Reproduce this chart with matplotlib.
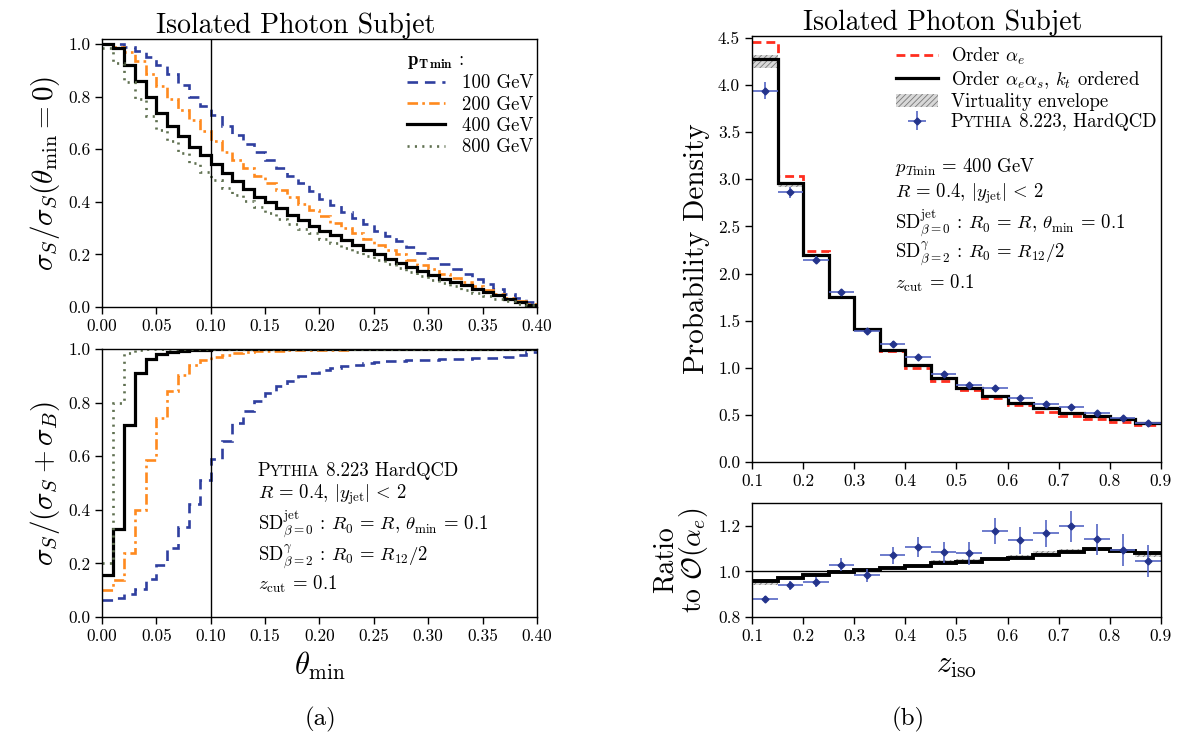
import matplotlib
matplotlib.use("Agg")
import matplotlib.pyplot as plt
import numpy as np
from matplotlib.offsetbox import TextArea, HPacker, AnnotationBbox
from matplotlib.patches import Patch

plt.rcParams["font.family"] = "cmr10"
plt.rcParams["mathtext.fontset"] = "cm"
plt.rcParams["axes.formatter.use_mathtext"] = True
plt.rcParams["axes.unicode_minus"] = False
plt.rcParams["hatch.linewidth"] = 0.6

# ---- panel (a): theta_min scan, 0.01 wide bins ----
theta_edges = np.linspace(0.0, 0.4, 41)
pt_labels = ["100 GeV", "200 GeV", "400 GeV", "800 GeV"]

frac_100 = [1.00, 1.00, 0.99, 0.975, 0.95, 0.92, 0.885, 0.845, 0.80, 0.765,
            0.73, 0.69, 0.656, 0.62, 0.59, 0.56, 0.53, 0.50, 0.47, 0.44,
            0.41, 0.387, 0.36, 0.34, 0.317, 0.29, 0.27, 0.25, 0.23, 0.206,
            0.187, 0.165, 0.146, 0.127, 0.108, 0.089, 0.07, 0.05, 0.034, 0.019]
frac_200 = [1.00, 0.99, 0.97, 0.935, 0.885, 0.84, 0.79, 0.75, 0.71, 0.67,
            0.63, 0.59, 0.56, 0.53, 0.50, 0.47, 0.444, 0.42, 0.393, 0.368,
            0.345, 0.32, 0.30, 0.28, 0.258, 0.237, 0.218, 0.20, 0.18, 0.16,
            0.143, 0.127, 0.11, 0.095, 0.079, 0.063, 0.048, 0.034, 0.022, 0.01]
frac_400 = [1.00, 0.984, 0.92, 0.86, 0.80, 0.74, 0.69, 0.65, 0.61, 0.58,
            0.545, 0.51, 0.48, 0.45, 0.42, 0.40, 0.377, 0.35, 0.33, 0.31,
            0.29, 0.273, 0.254, 0.235, 0.216, 0.20, 0.184, 0.169, 0.152, 0.137,
            0.12, 0.108, 0.095, 0.082, 0.07, 0.057, 0.044, 0.032, 0.019, 0.009]
frac_800 = [0.985, 0.93, 0.857, 0.79, 0.726, 0.675, 0.63, 0.586, 0.548, 0.514,
            0.482, 0.454, 0.428, 0.404, 0.38, 0.358, 0.336, 0.317, 0.298, 0.28,
            0.26, 0.244, 0.226, 0.21, 0.193, 0.178, 0.162, 0.148, 0.133, 0.118,
            0.104, 0.091, 0.079, 0.066, 0.053, 0.042, 0.03, 0.022, 0.013, 0.006]

purity_100 = [0.063, 0.07, 0.087, 0.106, 0.143, 0.193, 0.256, 0.337, 0.42, 0.51,
              0.59, 0.657, 0.723, 0.77, 0.804, 0.835, 0.86, 0.88, 0.898, 0.91,
              0.92, 0.929, 0.935, 0.941, 0.946, 0.95, 0.954, 0.956, 0.958, 0.96,
              0.96, 0.963, 0.964, 0.963, 0.965, 0.965, 0.966, 0.97, 0.979, 0.988]
purity_200 = [0.10, 0.137, 0.237, 0.40, 0.586, 0.742, 0.842, 0.904, 0.941, 0.958,
              0.97, 0.979, 0.985, 0.989, 0.991, 0.993, 0.994, 0.995, 0.996, 0.996,
              0.997, 0.997, 0.997, 0.998, 0.998, 0.998, 0.998, 0.998, 0.999, 0.999,
              0.999, 0.999, 0.999, 0.999, 0.999, 0.999, 0.999, 0.999, 0.999, 0.999]
purity_400 = [0.155, 0.33, 0.715, 0.91, 0.962, 0.983, 0.99, 0.994, 0.996, 0.997,
              0.998, 0.998, 0.999, 0.999, 0.999, 0.999, 0.999, 1.0, 1.0, 1.0,
              1.0, 1.0, 1.0, 1.0, 1.0, 1.0, 1.0, 1.0, 1.0, 1.0,
              1.0, 1.0, 1.0, 1.0, 1.0, 1.0, 1.0, 1.0, 1.0, 1.0]
purity_800 = [0.20, 0.80, 0.985, 0.995, 0.998, 0.999, 1.0, 1.0, 1.0, 1.0,
              1.0, 1.0, 1.0, 1.0, 1.0, 1.0, 1.0, 1.0, 1.0, 1.0,
              1.0, 1.0, 1.0, 1.0, 1.0, 1.0, 1.0, 1.0, 1.0, 1.0,
              1.0, 1.0, 1.0, 1.0, 1.0, 1.0, 1.0, 1.0, 1.0, 1.0]

# ---- panel (b): z_iso distribution, 0.05 wide bins ----
z_edges = np.linspace(0.1, 0.9, 17)
z_centers = 0.5 * (z_edges[:-1] + z_edges[1:])

dens_ae = [4.46, 3.03, 2.235, 1.75, 1.41, 1.175, 1.0, 0.862,
           0.762, 0.675, 0.604, 0.533, 0.485, 0.452, 0.425, 0.395]
dens_aeas = [4.28, 2.96, 2.20, 1.75, 1.416, 1.19, 1.027, 0.886,
             0.787, 0.703, 0.628, 0.568, 0.522, 0.49, 0.455, 0.416]
dens_env_lo = [4.18, 2.92, 2.17, 1.74, 1.41, 1.18, 1.02, 0.88,
               0.78, 0.695, 0.62, 0.56, 0.515, 0.485, 0.45, 0.41]
dens_env_hi = [4.32, 2.97, 2.21, 1.76, 1.42, 1.20, 1.035, 0.895,
               0.795, 0.71, 0.635, 0.575, 0.53, 0.495, 0.46, 0.42]
dens_pythia = [3.94, 2.86, 2.147, 1.80, 1.387, 1.257, 1.109, 0.932,
               0.816, 0.78, 0.675, 0.62, 0.586, 0.516, 0.463, 0.416]
dens_pythia_err = [0.09, 0.06, 0.04, 0.03, 0.03, 0.025, 0.025, 0.02,
                   0.02, 0.02, 0.02, 0.02, 0.02, 0.02, 0.02, 0.02]

ratio_aeas = [0.959, 0.971, 0.985, 0.997, 1.005, 1.015, 1.024, 1.035,
              1.042, 1.055, 1.06, 1.073, 1.085, 1.099, 1.091, 1.08]
ratio_env_lo = [0.94, 0.965, 0.985, 0.995, 1.0, 1.012, 1.022, 1.035,
                1.04, 1.053, 1.058, 1.07, 1.083, 1.09, 1.085, 1.065]
ratio_env_hi = [0.96, 0.975, 0.995, 1.0, 1.005, 1.02, 1.03, 1.05,
                1.055, 1.06, 1.07, 1.09, 1.10, 1.10, 1.095, 1.08]
ratio_pythia = [0.879, 0.94, 0.955, 1.03, 0.982, 1.07, 1.108, 1.083,
                1.08, 1.176, 1.136, 1.167, 1.197, 1.14, 1.095, 1.045]
ratio_pythia_err = [0.014, 0.02, 0.022, 0.03, 0.03, 0.038, 0.045, 0.048,
                    0.05, 0.058, 0.06, 0.06, 0.07, 0.07, 0.07, 0.07]

BLUE = "#2f3f9f"
ORANGE = "#ff8a1e"
GREEN = "#5f7050"
RED = "#ff2e1f"
PT_BLUE = "#24348c"
PT_ERR = "#5566c4"

styles = [
    dict(color=BLUE, lw=1.9, linestyle=(0, (4, 2.6))),
    dict(color=ORANGE, lw=1.9, linestyle=(0, (4, 1.6, 1, 1.6))),
    dict(color="black", lw=2.3, linestyle="-"),
    dict(color=GREEN, lw=1.9, linestyle=(0, (0.8, 2.0))),
]

TICK_FS = 12.5
TEXT_FS = 13.5
LABEL_FS = 21


def style_axes(ax):
    ax.tick_params(direction="out", length=5, width=1, labelsize=TICK_FS,
                   top=False, right=False)
    for sp in ax.spines.values():
        sp.set_linewidth(1.0)


def smallcaps_box(ax, x, y, head, caps, tail, fs, xycoords="data"):
    parts = [TextArea(head, textprops=dict(fontsize=fs)),
             TextArea(caps, textprops=dict(fontsize=fs * 0.8)),
             TextArea(tail, textprops=dict(fontsize=fs))]
    box = HPacker(children=parts, align="baseline", pad=0, sep=0)
    ab = AnnotationBbox(box, (x, y), xycoords=xycoords, box_alignment=(0, 0.5),
                        frameon=False, pad=0)
    ax.add_artist(ab)
    return ab


fig = plt.figure(figsize=(11.82, 7.42), dpi=100)

ax_a1 = fig.add_axes([0.0863, 0.5863, 0.368, 0.3612])
ax_a2 = fig.add_axes([0.0863, 0.1685, 0.368, 0.3612])
ax_b1 = fig.add_axes([0.6362, 0.3774, 0.346, 0.574])
ax_b2 = fig.add_axes([0.6362, 0.1685, 0.346, 0.1536])

# top-left: signal fraction
for vals, lab, st in zip([frac_100, frac_200, frac_400, frac_800], pt_labels, styles):
    ax_a1.stairs(vals, theta_edges, baseline=None, label=lab, **st)
ax_a1.axvline(0.1, color="black", lw=1.0)
ax_a1.set_xlim(0, 0.4)
ax_a1.set_ylim(0, 1.02)
ax_a1.set_xticks(np.arange(0, 0.401, 0.05))
ax_a1.set_xticklabels([f"{v:.2f}" for v in np.arange(0, 0.401, 0.05)])
ax_a1.set_yticks(np.arange(0, 1.01, 0.2))
ax_a1.set_yticklabels([f"{v:.1f}" for v in np.arange(0, 1.01, 0.2)])
ax_a1.set_ylabel(r"$\sigma_S/\sigma_S(\theta_{\min}=0)$", fontsize=LABEL_FS, labelpad=4)
ax_a1.set_title("Isolated Photon Subjet", fontsize=20, pad=4, x=0.446)
leg_a = ax_a1.legend(loc="upper left", bbox_to_anchor=(0.68, 0.99), frameon=False,
                     fontsize=TEXT_FS, title=r"$\mathbf{p_{T\,min}}$ :",
                     title_fontsize=TEXT_FS, handlelength=2.0, handletextpad=0.9,
                     labelspacing=0.18, borderpad=0, alignment="left")
style_axes(ax_a1)

# bottom-left: purity
for vals, st in zip([purity_100, purity_200, purity_400, purity_800], styles):
    ax_a2.stairs(vals, theta_edges, baseline=None, **st)
ax_a2.axvline(0.1, color="black", lw=1.0)
ax_a2.set_xlim(0, 0.4)
ax_a2.set_ylim(0, 1.0)
ax_a2.set_xticks(np.arange(0, 0.401, 0.05))
ax_a2.set_xticklabels([f"{v:.2f}" for v in np.arange(0, 0.401, 0.05)])
ax_a2.set_yticks(np.arange(0, 1.01, 0.2))
ax_a2.set_yticklabels([f"{v:.1f}" for v in np.arange(0, 1.01, 0.2)])
ax_a2.set_ylabel(r"$\sigma_S/(\sigma_S+\sigma_B)$", fontsize=LABEL_FS, labelpad=4)
ax_a2.set_xlabel(r"$\theta_{\min}$", fontsize=22, labelpad=4)
style_axes(ax_a2)

smallcaps_box(ax_a2, 0.143, 0.545, "P", "YTHIA", " 8.223 HardQCD", TEXT_FS)
ax_a2.text(0.143, 0.455, r"$R\,=\,0.4$, $|y_{\rm jet}|\,<\,2$", fontsize=TEXT_FS, va="center")
ax_a2.text(0.143, 0.343, r"SD$^{\rm jet}_{\beta=0}$ : $R_0\,=\,R$, $\theta_{\rm min}\,=\,0.1$",
           fontsize=TEXT_FS, va="center")
ax_a2.text(0.143, 0.225, r"SD$^{\gamma}_{\beta=2}$ : $R_0\,=\,R_{12}/2$", fontsize=TEXT_FS, va="center")
ax_a2.text(0.143, 0.12, r"$z_{\rm cut}\,=\,0.1$", fontsize=TEXT_FS, va="center")

# top-right: probability density
ax_b1.fill_between(z_edges, np.append(dens_env_lo, dens_env_lo[-1]),
                   np.append(dens_env_hi, dens_env_hi[-1]), step="post",
                   facecolor="#d8d8d8", edgecolor="#777777", hatch="//////", lw=0)
ax_b1.stairs(dens_ae, z_edges, baseline=None, color=RED, lw=2.0,
             linestyle=(0, (3.2, 1.8)))
ax_b1.stairs(dens_aeas, z_edges, baseline=None, color="black", lw=2.3)
ax_b1.errorbar(z_centers, dens_pythia, xerr=0.025, yerr=dens_pythia_err, fmt="D",
               ms=3.5, color=PT_BLUE, ecolor=PT_ERR, elinewidth=1.2, capsize=0)
ax_b1.set_xlim(0.1, 0.9)
ax_b1.set_ylim(0, 4.52)
ax_b1.set_xticks(np.arange(0.1, 0.901, 0.1))
ax_b1.set_xticklabels([f"{v:.1f}" for v in np.arange(0.1, 0.901, 0.1)])
ax_b1.set_yticks(np.arange(0, 4.51, 0.5))
ax_b1.set_yticklabels([f"{v:.1f}" for v in np.arange(0, 4.51, 0.5)])
ax_b1.set_ylabel("Probability Density", fontsize=LABEL_FS, labelpad=6)
ax_b1.set_title("Isolated Photon Subjet", fontsize=20, pad=4, x=0.467)
style_axes(ax_b1)

h_red = plt.Line2D([], [], color=RED, lw=2.0, linestyle=(0, (3.2, 1.8)))
h_blk = plt.Line2D([], [], color="black", lw=2.3)
h_env = Patch(facecolor="#d8d8d8", edgecolor="#777777", hatch="//////", lw=0)
h_pyt = ax_b1.errorbar([], [], xerr=[], yerr=[], fmt="D", ms=3.5, color=PT_BLUE,
                       ecolor=PT_ERR, elinewidth=1.2)
leg_b = ax_b1.legend([h_red, h_blk, h_env, h_pyt],
                     [r"Order $\alpha_e$", r"Order $\alpha_e\alpha_s$, $k_t$ ordered",
                      "Virtuality envelope", "PYTHIA 8.223, HardQCD"],
                     loc="upper left", bbox_to_anchor=(0.33, 1.0), frameon=False,
                     fontsize=TEXT_FS, handlelength=2.2, handletextpad=0.7,
                     labelspacing=0.12, borderpad=0)

ax_b1.text(0.38, 3.13, r"$p_{T\rm min}\,=\,400$ GeV", fontsize=TEXT_FS, va="center")
ax_b1.text(0.38, 2.85, r"$R\,=\,0.4$, $|y_{\rm jet}|\,<\,2$", fontsize=TEXT_FS, va="center")
ax_b1.text(0.38, 2.53, r"SD$^{\rm jet}_{\beta=0}$ : $R_0\,=\,R$, $\theta_{\rm min}\,=\,0.1$",
           fontsize=TEXT_FS, va="center")
ax_b1.text(0.38, 2.21, r"SD$^{\gamma}_{\beta=2}$ : $R_0\,=\,R_{12}/2$", fontsize=TEXT_FS, va="center")
ax_b1.text(0.38, 1.90, r"$z_{\rm cut}\,=\,0.1$", fontsize=TEXT_FS, va="center")

# bottom-right: ratio
ax_b2.fill_between(z_edges, np.append(ratio_env_lo, ratio_env_lo[-1]),
                   np.append(ratio_env_hi, ratio_env_hi[-1]), step="post",
                   facecolor="#d8d8d8", edgecolor="#777777", hatch="//////", lw=0)
ax_b2.axhline(1.0, color="black", lw=1.0)
ax_b2.stairs(ratio_aeas, z_edges, baseline=None, color="black", lw=2.8)
ax_b2.errorbar(z_centers, ratio_pythia, xerr=0.025, yerr=ratio_pythia_err, fmt="D",
               ms=3.5, color=PT_BLUE, ecolor=PT_ERR, elinewidth=1.2, capsize=0)
ax_b2.set_xlim(0.1, 0.9)
ax_b2.set_ylim(0.8, 1.3)
ax_b2.set_xticks(np.arange(0.1, 0.901, 0.1))
ax_b2.set_xticklabels([f"{v:.1f}" for v in np.arange(0.1, 0.901, 0.1)])
ax_b2.set_yticks([0.8, 1.0, 1.2])
ax_b2.set_yticklabels(["0.8", "1.0", "1.2"])
ax_b2.set_ylabel("Ratio\n" + r"to $\mathcal{O}(\alpha_e)$", fontsize=20, labelpad=6,
                 linespacing=0.9)
ax_b2.set_xlabel(r"$z_{\rm iso}$", fontsize=22, labelpad=6)
style_axes(ax_b2)

fig.text(0.271, 0.022, "(a)", fontsize=18, ha="center")
fig.text(0.768, 0.022, "(b)", fontsize=18, ha="center")

# small caps for the Pythia legend entry
fig.canvas.draw()
t4 = leg_b.get_texts()[3]
bb = t4.get_window_extent()
t4.set_text("")
smallcaps_box(ax_b1, bb.x0, 0.5 * (bb.y0 + bb.y1), "P", "YTHIA", " 8.223, HardQCD",
              TEXT_FS, xycoords="figure pixels")

fig.savefig("out.png", dpi=100)
